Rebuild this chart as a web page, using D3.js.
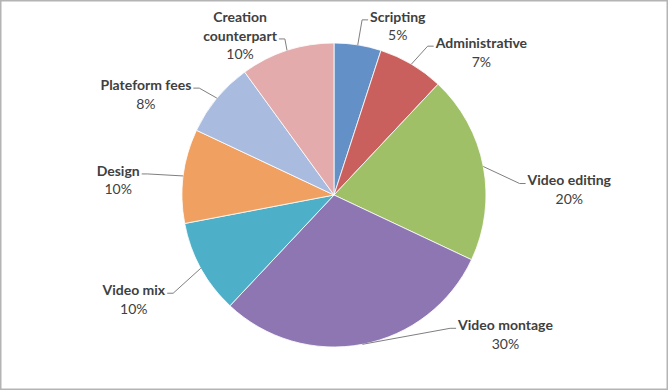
<!DOCTYPE html>
<meta charset="utf-8">
<style>
  body {
    margin: 0;
    background: #fff;
  }
  text {
    font-family: Lato, "Open Sans", sans-serif;
    fill: #404040;
  }
  .name {
    font-weight: bold;
  }
  .leader {
    fill: none;
    stroke: #7f7f7f;
    stroke-width: 1;
  }
</style>
<svg width="668" height="390"></svg>
<script src="https://d3js.org/d3.v7.min.js"></script>
<script>
  // data
  var categories = ["Scripting", "Administrative", "Video editing", "Video montage",
    "Video mix", "Design", "Plateform fees", "Creation counterpart"];
  var values = [5, 7, 20, 30, 10, 10, 8, 10];
  var percentLabels = ["5%", "7%", "20%", "30%", "10%", "10%", "8%", "10%"];
  var colors = ["#6490c8", "#c9605e", "#9fc066", "#8e76b3",
    "#4eb0c8", "#f0a060", "#a9bce0", "#e3abab"];

  // label layout: lines of the name and offset of first line from the slice's edge point
  var nameLines = [["Scripting"], ["Administrative"], ["Video editing"], ["Video montage"],
    ["Video mix"], ["Design"], ["Plateform fees"], ["Creation", "counterpart"]];
  var labelOffsets = [[40, -28], [70, -21], [86, 14], [143, -19],
    [-67, 22], [-65, -5], [-71, -13], [-47, -33]];

  var svg = d3.select("svg"),
    width = +svg.attr("width"),
    height = +svg.attr("height");

  // frame
  svg.append("rect")
    .attr("x", 0.5).attr("y", 0.5)
    .attr("width", width - 1).attr("height", height - 1)
    .attr("fill", "#fff")
    .attr("stroke", "#b4b4b4")
    .attr("stroke-width", 2);

  var cx = 334, cy = 195, r = 152;
  var lineH = 18.5;

  var pie = d3.pie().sort(null).value(function(d) { return d; });
  var arcs = pie(values);
  var arc = d3.arc().innerRadius(0).outerRadius(r);

  var g = svg.append("g")
    .attr("transform", "translate(" + cx + "," + cy + ")");

  g.selectAll(".slice")
    .data(arcs)
    .enter().append("path")
    .attr("class", "slice")
    .attr("d", arc)
    .attr("fill", function(d, i) { return colors[i]; })
    .attr("stroke", "#fff")
    .attr("stroke-width", 0.8);

  // labels + leader lines
  arcs.forEach(function(d, i) {
    var mid = (d.startAngle + d.endAngle) / 2;
    var ex = Math.sin(mid) * r,
      ey = -Math.cos(mid) * r;
    var lx = ex + labelOffsets[i][0],
      ly = ey + labelOffsets[i][1];

    var lab = g.append("g");
    var lines = nameLines[i];
    var widest = 0, texts = [];
    lines.forEach(function(t, k) {
      var tx = lab.append("text")
        .attr("class", "name")
        .attr("x", lx).attr("y", ly + k * lineH)
        .attr("dy", "0.35em")
        .attr("text-anchor", "middle")
        .style("font-size", "14px")
        .text(t);
      texts.push(tx);
    });
    lab.append("text")
      .attr("x", lx).attr("y", ly + lines.length * lineH)
      .attr("dy", "0.35em")
      .attr("text-anchor", "middle")
      .style("font-size", "14px")
      .text(percentLabels[i]);

    // attach leader to the last name line
    var last = texts[texts.length - 1];
    var w = last.node().getComputedTextLength();
    var right = ex < lx;
    var side = right ? lx - w / 2 - 2 : lx + w / 2 + 2;
    var yl = ly + (lines.length - 1) * lineH + 3;
    var elbow = right ? side - 6 : side + 6;
    var pts = [[ex, ey], [elbow, yl], [side, yl]];
    g.append("path")
      .attr("class", "leader")
      .attr("d", d3.line()(pts));
  });
</script>
